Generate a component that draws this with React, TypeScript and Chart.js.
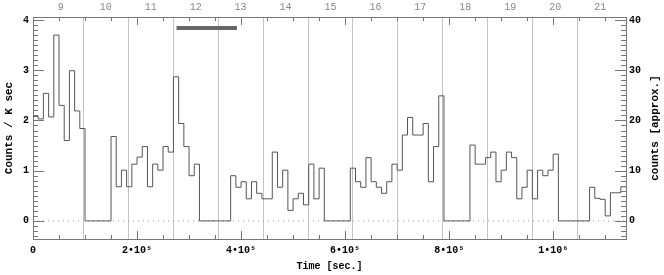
import React, { useEffect, useRef } from 'react';
import { Chart, registerables } from 'chart.js';

Chart.register(...registerables);

// ---- data ----
const BIN_WIDTH = 10000; // seconds per histogram bin
const countRate = [
  2.08, 2.03, 2.54, 2.07, 3.70, 2.30, 1.60, 2.99, 2.19, 1.84,
  0, 0, 0, 0, 0, 1.68, 0.68, 1.01, 0.68, 1.13,
  1.27, 1.48, 0.68, 1.13, 1.01, 1.48, 1.37, 2.87, 1.94, 1.48,
  0.90, 1.13, 0, 0, 0, 0, 0, 0, 0.90, 0.67,
  0.78, 0.44, 0.78, 0.55, 0.44, 0.44, 1.37, 0.67, 1.01, 0.21,
  0.44, 0.55, 0.32, 1.13, 0.44, 1.05, 0, 0, 0, 0,
  0, 1.05, 0.78, 0.67, 1.26, 0.78, 0.67, 0.55, 0.78, 1.13,
  1.01, 1.71, 2.06, 1.71, 1.71, 1.94, 0.78, 1.48, 2.49, 0,
  0, 0, 0, 0, 1.51, 1.13, 1.13, 1.26, 1.37, 0.78,
  1.01, 1.37, 1.26, 0.44, 0.67, 1.01, 0.44, 1.01, 0.90, 1.01,
  1.33, 0, 0, 0, 0, 0, 0, 0.67, 0.45, 0.43,
  0.10, 0.56, 0.56, 0.68,
];
const timeMax = 1140000;
const timeTickValues = [0, 200000, 400000, 600000, 800000, 1000000];
const timeTickLabels = ['0', '2•10⁵', '4•10⁵', '6•10⁵', '8•10⁵', '1•10⁶'];
const dayTickValues = [9, 10, 11, 12, 13, 14, 15, 16, 17, 18, 19, 20, 21];
const dayTickLabels = ['9', '10', '11', '12', '13', '14', '15', '16', '17', '18', '19', '20', '21'];
const dayAtTimeZero = 8.381;
const SEC_PER_DAY = 86400;
const rateTickValues = [0, 1, 2, 3, 4];
const countTickValues = [0, 10, 20, 30, 40];
const rateRange = [-0.36, 4.06];
const countsPerRate = 10;
const barInterval = [276000, 392000];
const barLevel = 3.84;

const FONT = '"Liberation Mono", "DejaVu Sans Mono", monospace';
const FRAME = '#777';

const framePlugin = {
  id: 'frameTicks',
  afterDraw(chart: any) {
    const { ctx, chartArea: a, scales } = chart;
    const x = scales.x, y = scales.y, y2 = scales.y2;
    ctx.save();
    ctx.strokeStyle = FRAME;
    ctx.lineWidth = 1;
    ctx.beginPath();
    for (let i = -3; i <= 40; i++) {
      const py = Math.round(y.getPixelForValue(i / 10)) + 0.5;
      const len = i % 10 === 0 ? 11 : 5;
      ctx.moveTo(a.left, py);
      ctx.lineTo(a.left + len, py);
    }
    for (let c = -3; c <= 40; c++) {
      const py = Math.round(y2.getPixelForValue(c)) + 0.5;
      const len = c % 10 === 0 ? 11 : 5;
      ctx.moveTo(a.right, py);
      ctx.lineTo(a.right - len, py);
    }
    for (let t = 0; t <= timeMax; t += 50000) {
      const px = Math.round(x.getPixelForValue(t)) + 0.5;
      const len = t % 200000 === 0 ? 8 : 4;
      ctx.moveTo(px, a.bottom);
      ctx.lineTo(px, a.bottom - len);
      ctx.moveTo(px, a.top);
      ctx.lineTo(px, a.top + len);
    }
    ctx.stroke();
    ctx.fillStyle = '#000';
    ctx.font = `bold 11px ${FONT}`;
    ctx.translate(655, (a.top + a.bottom) / 2);
    ctx.rotate(-Math.PI / 2);
    ctx.textAlign = 'center';
    ctx.textBaseline = 'middle';
    ctx.fillText('counts [approx.]', 0, 0);
    ctx.restore();
  },
};

export default function App() {
  const ref = useRef<HTMLCanvasElement>(null);

  useEffect(() => {
    if (!ref.current) return;
    const histo = countRate.map((v, i) => ({ x: i * BIN_WIDTH, y: v }));
    histo.push({ x: countRate.length * BIN_WIDTH, y: countRate[countRate.length - 1] });

    const chart = new Chart(ref.current, {
      type: 'line',
      data: {
        datasets: [
          {
            data: histo,
            stepped: 'before',
            borderColor: '#555',
            borderWidth: 1,
            pointRadius: 0,
            xAxisID: 'x',
            yAxisID: 'y',
          },
          {
            data: [{ x: barInterval[0], y: barLevel }, { x: barInterval[1], y: barLevel }],
            borderColor: '#666',
            borderWidth: 4,
            borderCapStyle: 'butt',
            pointRadius: 0,
            xAxisID: 'x',
            yAxisID: 'y',
          },
          {
            data: [{ x: 0, y: 0 }, { x: timeMax, y: 0 }],
            borderColor: '#999',
            borderWidth: 1,
            borderDash: [1, 4],
            pointRadius: 0,
            xAxisID: 'x',
            yAxisID: 'y',
          },
        ],
      } as any,
      options: {
        animation: false,
        responsive: true,
        maintainAspectRatio: false,
        layout: { padding: 0 },
        plugins: { legend: { display: false }, tooltip: { enabled: false } },
        scales: {
          x: {
            type: 'linear',
            position: 'bottom',
            min: 0,
            max: timeMax,
            afterBuildTicks: (s: any) => {
              s.ticks = timeTickValues.map((v) => ({ value: v }));
            },
            afterFit: (s: any) => {
              s.height = 36;
            },
            grid: { display: false, drawTicks: false },
            border: { display: true, color: FRAME },
            ticks: {
              callback: (_v: any, i: number) => timeTickLabels[i],
              font: { family: FONT, size: 10, weight: 'bold' },
              color: '#000',
              padding: 5,
              maxRotation: 0,
              autoSkip: false,
            },
            title: {
              display: true,
              text: 'Time [sec.]',
              font: { family: FONT, size: 10, weight: 'bold' },
              color: '#000',
              padding: { top: 0, bottom: 3 },
            },
          },
          x2: {
            type: 'linear',
            position: 'top',
            min: dayAtTimeZero,
            max: dayAtTimeZero + timeMax / SEC_PER_DAY,
            afterBuildTicks: (s: any) => {
              const t: any[] = [];
              dayTickValues.forEach((d) => {
                t.push({ value: d });
                if (d + 0.5 < s.max - 0.2) t.push({ value: d + 0.5 });
              });
              s.ticks = t;
            },
            afterFit: (s: any) => {
              s.height = 17;
            },
            grid: {
              drawTicks: false,
              color: (c: any) =>
                c.tick && Number.isInteger(c.tick.value) ? 'rgba(0,0,0,0)' : '#c4c4c4',
            },
            border: { display: true, color: FRAME },
            ticks: {
              callback: (v: any) =>
                Number.isInteger(v) ? dayTickLabels[dayTickValues.indexOf(v)] : '',
              font: { family: FONT, size: 10 },
              color: '#888',
              padding: 4,
              maxRotation: 0,
              autoSkip: false,
            },
          },
          y: {
            position: 'left',
            min: rateRange[0],
            max: rateRange[1],
            afterBuildTicks: (s: any) => {
              s.ticks = rateTickValues.map((v) => ({ value: v }));
            },
            afterFit: (s: any) => {
              s.width = 33;
            },
            grid: { display: false, drawTicks: false },
            border: { display: true, color: FRAME },
            ticks: {
              callback: (v: any) => String(v),
              font: { family: FONT, size: 10, weight: 'bold' },
              color: '#000',
              padding: 4,
            },
            title: {
              display: true,
              text: 'Counts / K sec',
              font: { family: FONT, size: 11, weight: 'bold' },
              color: '#000',
              padding: { top: 3, bottom: 0 },
            },
          },
          y2: {
            position: 'right',
            min: rateRange[0] * countsPerRate,
            max: rateRange[1] * countsPerRate,
            afterBuildTicks: (s: any) => {
              s.ticks = countTickValues.map((v) => ({ value: v }));
            },
            afterFit: (s: any) => {
              s.width = 38;
            },
            grid: { display: false, drawTicks: false },
            border: { display: true, color: FRAME },
            ticks: {
              callback: (v: any) => String(v),
              font: { family: FONT, size: 10, weight: 'bold' },
              color: '#000',
              padding: 3,
            },
          },
        },
      } as any,
      plugins: [framePlugin],
    });
    return () => chart.destroy();
  }, []);

  return (
    <div style={{ position: 'fixed', left: 0, top: 0, width: 664, height: 275, background: '#fff' }}>
      <canvas ref={ref} />
    </div>
  );
}
